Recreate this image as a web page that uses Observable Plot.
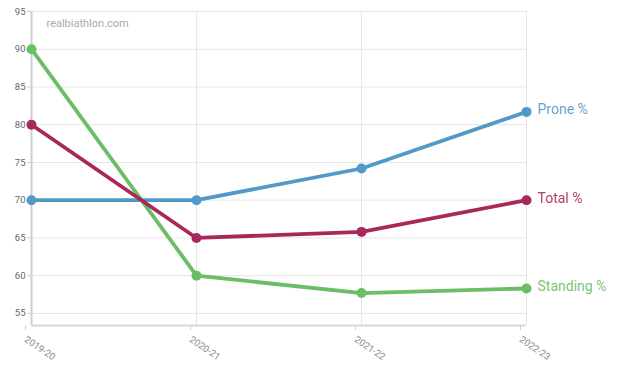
<!DOCTYPE html>
<html><head><meta charset="utf-8">
<script src="https://cdn.jsdelivr.net/npm/d3@7"></script>
<script src="https://cdn.jsdelivr.net/npm/@observablehq/plot@0.6"></script>
<style>
body{margin:0;background:#fff;font-family:Roboto,"Noto Sans",sans-serif;}
</style></head>
<body><div id="chart"></div>
<script>
const seasons = ["2019-20","2020-21","2021-22","2022-23"];
const seriesNames = ["Prone %","Standing %","Total %"];
const prone = [70, 70, 74.2, 81.7];
const standing = [90, 60, 57.7, 58.3];
const total = [80, 65, 65.8, 70];
const colors = ["#5299c8","#6bbd66","#a9285b"];
const yTicks = [55,60,65,70,75,80,85,90,95];

const values = {"Prone %": prone, "Standing %": standing, "Total %": total};
const data = [];
for (const s of seriesNames) seasons.forEach((season,i)=>data.push({series:s, season, value: values[s][i]}));
const last = data.filter(d => d.season === seasons[seasons.length-1]);

const chart = Plot.plot({
  width: 617, height: 372,
  marginLeft: 31, marginRight: 91, marginTop: 11, marginBottom: 47,
  style: {fontFamily: "Roboto, sans-serif", fontSize: "10px", color: "#666", background: "#fff"},
  x: {type: "point", domain: seasons, padding: 0, label: null},
  y: {domain: [53.4, 95], label: null},
  color: {domain: seriesNames, range: colors},
  marks: [
    Plot.gridY(yTicks, {stroke: "#e6e6e6", strokeOpacity: 1, strokeWidth: 1}),
    Plot.gridX(seasons, {stroke: "#e6e6e6", strokeOpacity: 1, strokeWidth: 1}),
    Plot.ruleX([seasons[0]], {stroke: "#ccd0d6", strokeWidth: 2}),
    Plot.ruleY([53.4], {stroke: "#d6d8dc", strokeWidth: 2}),
    Plot.axisY(yTicks, {tickSize: 4, tickPadding: 2, stroke: "#ccd0d6", fill: "#666", fontSize: 9.5}),
    Plot.axisX(seasons, {tickSize: 5, tickPadding: 8, tickRotate: 34, textAnchor: "start", dx: -6, stroke: "#ccd0d6", fill: "#888", fontSize: 9.5}),
    Plot.text(["realbiathlon.com"], {frameAnchor: "top-left", dx: 15, dy: 8, fill: "#aaa", fontSize: 11}),
    Plot.line(data, {x: "season", y: "value", z: "series", stroke: "series", strokeWidth: 3.8}),
    Plot.dot(data, {x: "season", y: "value", fill: "series", r: 5}),
    Plot.text(last, {x: "season", y: "value", text: "series", fill: "series", fillOpacity: 0.92, textAnchor: "start", dx: 11, dy: -2, fontSize: 14})
  ]
});
document.getElementById("chart").append(chart);
</script>
</body></html>
